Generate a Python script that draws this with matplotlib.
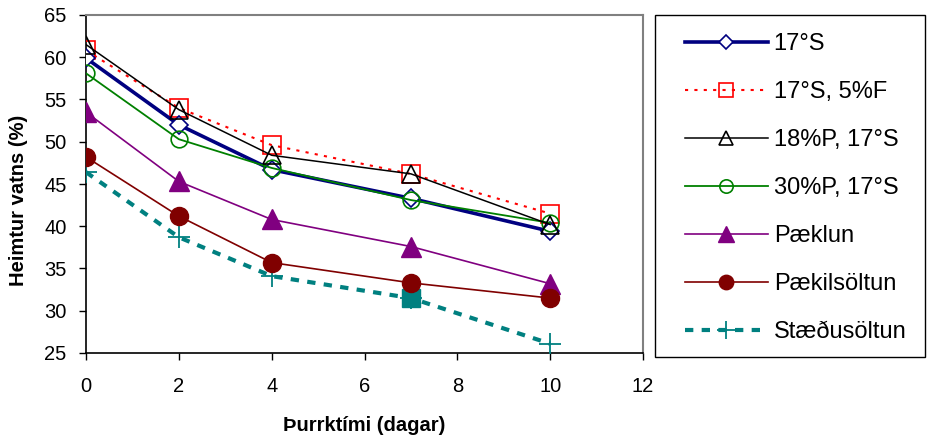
import matplotlib
matplotlib.use("Agg")
import matplotlib.pyplot as plt
from matplotlib.patches import Rectangle

plt.rcParams['font.family'] = ['Liberation Sans', 'DejaVu Sans']

days = [0, 2, 4, 7, 10]
s17 = [59.9, 52.0, 46.7, 43.3, 39.4]
s17_5F = [60.8, 54.0, 49.6, 46.2, 41.5]
p18_s17 = [61.5, 53.8, 48.4, 46.2, 40.2]
p30_s17 = [58.1, 50.3, 46.9, 43.1, 40.4]
paeklun = [53.5, 45.3, 40.8, 37.6, 33.2]
paekilsoltun = [48.2, 41.2, 35.7, 33.3, 31.5]
staedusoltun = [46.4, 38.7, 34.1, 31.5, 26.1]

labels = ["17°S", "17°S, 5%F", "18%P, 17°S", "30%P, 17°S",
          "Pæklun", "Pækilsöltun", "Stæðusöltun"]

W, H = 927, 442
fig = plt.figure(figsize=(W / 100, H / 100), dpi=100)
ax = fig.add_axes([86 / W, 1 - 353 / H, (643 - 86) / W, (353 - 15) / H])

ax.plot(days, s17, color='#000080', lw=2.6, marker='D', ms=9,
        mfc='white', mec='#000080', mew=1.2, label=labels[0], zorder=5)
ax.plot(days, s17_5F, color='#ff0000', lw=1.5, ls=(0, (1.5, 3)), marker='s', ms=13,
        mfc='none', mec='#ff0000', mew=1.2, label=labels[1], zorder=4)
ax.plot(days, p18_s17, color='black', lw=1.1, marker='^', ms=13,
        mfc='none', mec='black', mew=1.2, label=labels[2], zorder=6)
ax.plot(days, p30_s17, color='#008000', lw=1.3, marker='o', ms=12,
        mfc='none', mec='#008000', mew=1.2, label=labels[3], zorder=5)
ax.plot(days, paeklun, color='#800080', lw=1.2, marker='^', ms=14,
        mfc='#800080', mec='#800080', label=labels[4], zorder=4)
ax.plot(days, paekilsoltun, color='#800000', lw=1.2, marker='o', ms=13,
        mfc='#800000', mec='#800000', label=labels[5], zorder=4)
ax.plot(days, staedusoltun, color='#008080', lw=3, ls=(0, (2.0, 2.0)), marker='+', ms=16,
        mew=1.3, mec='#008080', label=labels[6], zorder=3)
ax.plot(days[3], staedusoltun[3], ls='none', marker='s', ms=13,
        mfc='#008080', mec='#008080', zorder=3)

ax.set_xlim(0, 12)
ax.set_ylim(25, 65)
ax.set_xticks(range(0, 13, 2))
ax.set_yticks(range(25, 66, 5))
ax.tick_params(direction='out', length=5, width=1, labelsize=14.5)
ax.tick_params(axis='x', pad=12)
ax.tick_params(axis='y', pad=9)
for side in ('top', 'right'):
    ax.spines[side].set_color('#808080')
    ax.spines[side].set_linewidth(1.5)
for side in ('left', 'bottom'):
    ax.spines[side].set_color('black')
    ax.spines[side].set_linewidth(1.2)

ax.set_xlabel("Þurrktími (dagar)", fontsize=14.5, fontweight='bold')
ax.set_ylabel("Heimtur vatns (%)", fontsize=14.5, fontweight='bold')
ax.xaxis.set_label_coords(0.5, -0.186)
ax.yaxis.set_label_coords(-0.105, 0.453)

# legend frame drawn as a separate box, entries placed inside it
fig.patches.append(Rectangle((655 / W, 1 - 357 / H), (925 - 655) / W, (357 - 15) / H,
                             transform=fig.transFigure, fill=False,
                             edgecolor='black', linewidth=1.0))
leg = fig.legend(loc='upper left', bbox_to_anchor=(678 / W, 1 - 26 / H),
                 fontsize=17, frameon=False,
                 handlelength=3.5, handletextpad=0.25, labelspacing=1.1,
                 borderpad=0.3, borderaxespad=0, markerscale=0.8)

fig.savefig("out.png", dpi=100)
